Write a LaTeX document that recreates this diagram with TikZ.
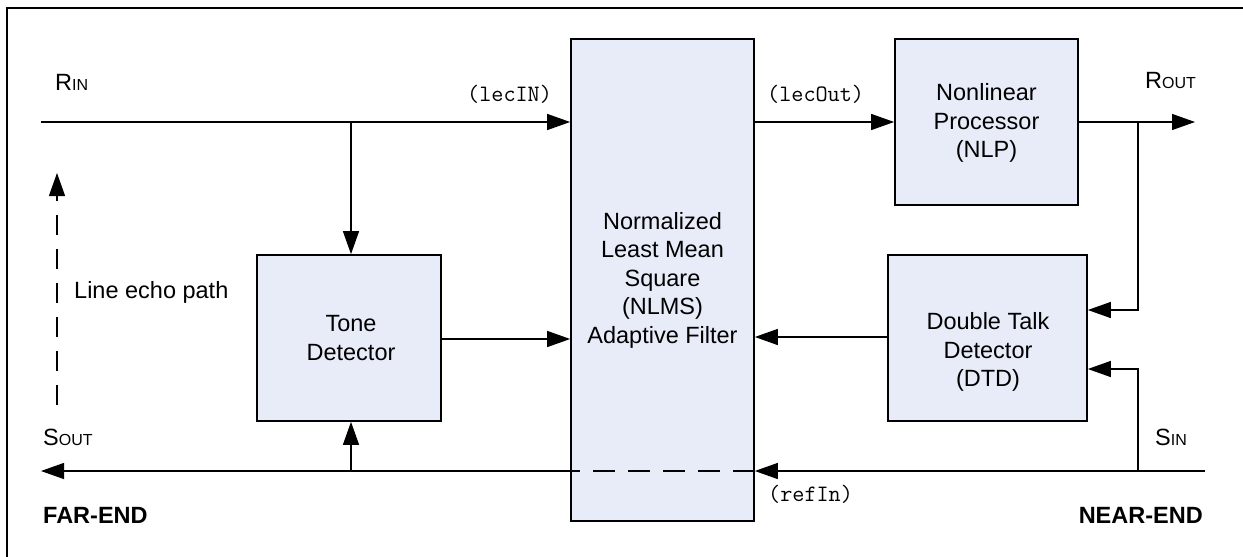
\documentclass[tikz,border=0pt]{standalone}
\usepackage{fontspec}
\setmainfont{Liberation Sans}
\usetikzlibrary{arrows.meta}
\definecolor{boxfill}{RGB}{232,236,248}
\begin{document}
\begin{tikzpicture}[x=1pt,y=-1pt,
  blk/.style={draw, line width=1.7pt, fill=boxfill, inner sep=0pt},
  conn/.style={line width=1.3pt},
  arr/.style={line width=1.3pt, -{Triangle[length=23pt,width=16pt]}},
  lbl/.style={inner sep=0pt, anchor=base west},
  mono/.style={inner sep=0pt, font=\ttfamily\fontsize{23.5}{26}\selectfont},
  txt/.style={align=center, font=\fontsize{23.5}{28.5}\selectfont}]
\useasboundingbox (0,0) rectangle (1243,557);
\draw[line width=2pt] (7,557) -- (7,8) -- (1243,8);
% boxes
\node[blk, minimum width=183pt, minimum height=482pt] (nlms) at (662.5,280) {};
\node[txt] at (662.5,280) {Normalized\\Least Mean\\Square\\(NLMS)\\Adaptive Filter};
\node[blk, minimum width=184pt, minimum height=166pt] (tone) at (349,338) {};
\node[txt] at (351,338) {Tone\\Detector};
\node[blk, minimum width=183pt, minimum height=166pt] (nlp) at (986.5,122) {};
\node[txt] at (986.5,123) {Nonlinear\\Processor\\(NLP)};
\node[blk, minimum width=199pt, minimum height=166pt] (dtd) at (987.5,338) {};
\node[txt] at (988,352) {Double Talk\\Detector\\(DTD)};
% coordinates
\coordinate (rin) at (41,122);
\coordinate (rinbr) at (351,122);
\coordinate (rout) at (1195,122);
\coordinate (routbr) at (1138,122);
\coordinate (dtdin1) at (1138,310);
\coordinate (sinstart) at (1205,471);
\coordinate (sinbr) at (1138,471);
\coordinate (sinup) at (1138,369);
\coordinate (sout) at (41,471);
\coordinate (toneup) at (351,471);
\coordinate (echoA) at (57,405);
\coordinate (echoB) at (57,173);
% connectors
\draw[conn] (rin) -- (rinbr);
\draw[arr] (rinbr) -- (nlms.west |- rin);
\draw[arr] (rinbr) -- (tone.north -| rinbr);
\draw[arr] (tone.east |- 0,339) -- (nlms.west |- 0,339);
\draw[arr] (nlms.east |- 0,122) -- (nlp.west |- 0,122);
\draw[conn] (nlp.east |- 0,122) -- (routbr);
\draw[arr] (routbr) -- (rout);
\draw[arr] (routbr) -- (dtdin1) -- (dtd.east |- dtdin1);
\draw[arr] (dtd.west |- 0,337) -- (nlms.east |- 0,337);
\draw[arr] (sinbr) -- (sinup) -- (dtd.east |- sinup);
\draw[conn] (sinstart) -- (sinbr);
\draw[arr] (sinbr) -- (nlms.east |- sinbr);
\draw[conn, dash pattern=on 22pt off 13pt] (nlms.east |- sinbr) -- (nlms.west |- sinbr);
\draw[arr] (nlms.west |- sinbr) -- (sout);
\draw[arr] (toneup) -- (tone.south -| toneup);
\draw[line width=1.3pt, dash pattern=on 20pt off 14pt, -{Triangle[length=23pt,width=16pt]}] (echoA) -- (echoB);
% labels
\node[lbl] (lrin) at (55,90) {\fontsize{23.5}{28}\selectfont R\fontsize{16}{20}\selectfont IN};
\node[lbl] (lrout) at (1145,88) {\fontsize{23.5}{28}\selectfont R\fontsize{16}{20}\selectfont OUT};
\node[lbl] (lsout) at (43,445) {\fontsize{23.5}{28}\selectfont S\fontsize{16}{20}\selectfont OUT};
\node[lbl] (lsin) at (1155,445) {\fontsize{23.5}{28}\selectfont S\fontsize{16}{20}\selectfont IN};
\node[lbl, font=\fontsize{23.5}{28}\selectfont] (echo) at (74,298) {Line echo path};
\node[lbl, font=\bfseries\fontsize{23.5}{28}\selectfont] (far) at (43,523) {FAR-END};
\node[lbl, anchor=base east, font=\bfseries\fontsize{23.5}{28}\selectfont] (near) at (1203,523) {NEAR-END};
\node[mono, anchor=base west] (lecin) at (467,101) {(lecIN)};
\node[mono, anchor=base west] (lecout) at (767,101) {(lecOut)};
\node[mono, anchor=base west] (refin) at (768,501) {(refIn)};
\end{tikzpicture}
\end{document}
